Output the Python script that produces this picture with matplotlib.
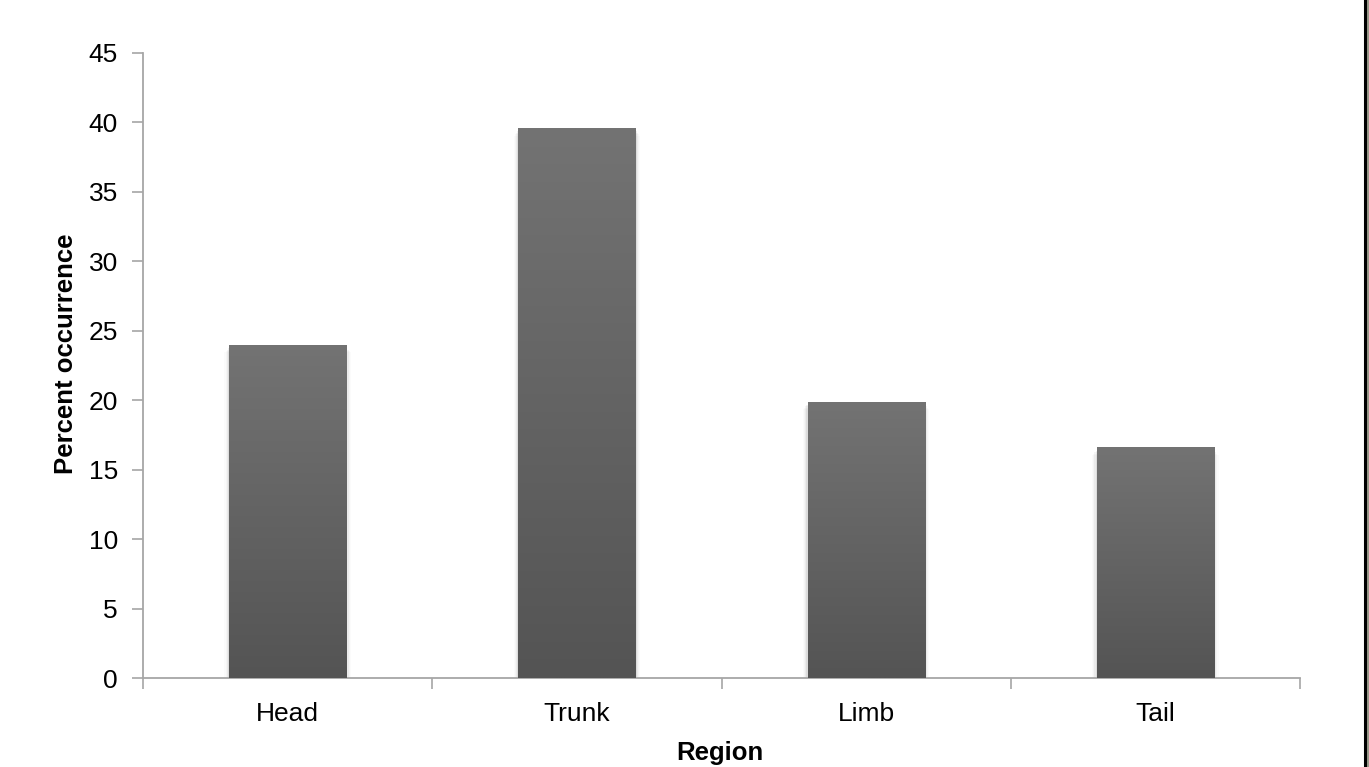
import numpy as np
import matplotlib.pyplot as plt
from matplotlib.patches import Rectangle
from matplotlib.lines import Line2D

# data
regions = ['Head', 'Trunk', 'Limb', 'Tail']
percent = [24.0, 39.6, 19.9, 16.6]
yticks = [0, 5, 10, 15, 20, 25, 30, 35, 40, 45]

plt.rcParams['font.family'] = ['Liberation Sans', 'DejaVu Sans']

W, H = 1369, 767
fig = plt.figure(figsize=(W / 100, H / 100), dpi=100)
ax = fig.add_axes([143 / W, (767 - 678) / H, (1300 - 143) / W, (678 - 53) / H])

x = np.arange(len(regions))
bar_w = 0.405
bars = ax.bar(x, percent, width=bar_w, color='none', edgecolor='none', zorder=3)

# vertical grey gradient, lighter at the top
grad = np.linspace(0, 1, 256).reshape(-1, 1)
cmap = plt.matplotlib.colors.LinearSegmentedColormap.from_list('g', ['#545454', '#737373'])
for b in bars:
    x0, y0 = b.get_x(), b.get_y()
    w, h = b.get_width(), b.get_height()
    # soft shadow along the sides of each bar
    for k, a in enumerate([0.06, 0.04, 0.025, 0.015]):
        pad = 0.004 * (k + 1)
        ax.add_patch(Rectangle((x0 - pad, y0), w + 2 * pad, h - 0.25 - 0.1 * k,
                               facecolor='black', alpha=a, edgecolor='none', zorder=2))
    im = ax.imshow(grad, extent=[x0, x0 + w, y0, y0 + h], origin='lower',
                   cmap=cmap, aspect='auto', zorder=3)
    im.set_clip_path(b)

ax.set_xlim(-0.5, len(regions) - 0.5)
ax.set_ylim(0, 45)
ax.set_yticks(yticks)
ax.set_xticks(x)
ax.set_xticklabels(regions)
ax.tick_params(axis='x', length=0, labelsize=19, pad=17)
ax.tick_params(axis='y', length=8, width=1.2, color='#a6a6a6', labelsize=19, pad=10)

# category boundary ticks below the x axis
ax.set_xticks(np.arange(-0.5, len(regions)), minor=True)
ax.tick_params(axis='x', which='minor', length=8, width=1.2, color='#a6a6a6', direction='out')

for s in ['top', 'right']:
    ax.spines[s].set_visible(False)
for s in ['left', 'bottom']:
    ax.spines[s].set_color('#a6a6a6')
    ax.spines[s].set_linewidth(1.3)

ax.set_xlabel('Region', fontsize=18.5, fontweight='bold')
ax.set_ylabel('Percent occurrence', fontsize=18.5, fontweight='bold')
ax.xaxis.set_label_coords((720 - 143) / (1300 - 143), -(753 - 678) / (678 - 53))
ax.yaxis.set_label_coords(-(143 - 66) / (1300 - 143), (678 - 354) / (678 - 53))
ax.xaxis.label.set_va('center')
ax.yaxis.label.set_va('center')

# dark frame line on the right edge
fig.add_artist(Line2D([1365 / W, 1365 / W], [0, 1], color='black', lw=2.2))
fig.add_artist(Rectangle((1366.5 / W, 0), 3 / W, 1, facecolor='#9a9a8a', edgecolor='none'))

fig.savefig('out.png', dpi=100)
